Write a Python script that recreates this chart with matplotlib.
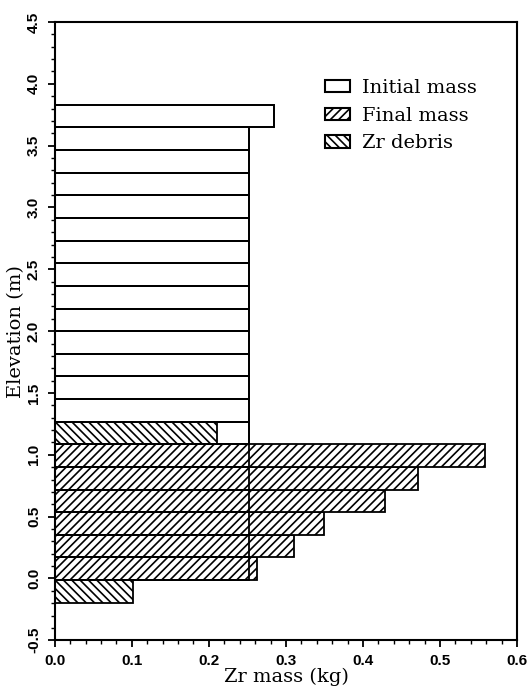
from __future__ import annotations

import matplotlib

matplotlib.use("Agg")

import matplotlib.pyplot as plt
from matplotlib.patches import Patch
from matplotlib.ticker import MultipleLocator


# elevation cells (bottom edge, m), all the same height
CELL_BOTTOM = [-0.196, -0.013, 0.170, 0.353, 0.536, 0.719, 0.902, 1.085,
               1.268, 1.451, 1.634, 1.817, 2.000, 2.183, 2.366, 2.549,
               2.732, 2.915, 3.098, 3.281, 3.464, 3.647]
CELL_HEIGHT = 0.183

# Zr mass per cell (kg); None = nothing in that cell
INITIAL_MASS = [None, 0.252, 0.252, 0.252, 0.252, 0.252, 0.252, 0.252,
                0.252, 0.252, 0.252, 0.252, 0.252, 0.252, 0.252, 0.252,
                0.252, 0.252, 0.252, 0.252, 0.252, 0.285]
FINAL_MASS = [None, 0.262, 0.310, 0.350, 0.428, 0.472, 0.558, None,
              None, None, None, None, None, None, None, None,
              None, None, None, None, None, None]
ZR_DEBRIS = [0.102, None, None, None, None, None, None, 0.211,
             None, None, None, None, None, None, None, None,
             None, None, None, None, None, None]

SERIF = ["DejaVu Serif"]
TICK_FONT = ["Liberation Sans", "DejaVu Sans"]


def pick(values):
    ys = [b for b, v in zip(CELL_BOTTOM, values) if v is not None]
    ws = [v for v in values if v is not None]
    return ys, ws


def main() -> None:
    plt.rcParams["hatch.linewidth"] = 1.2

    fig = plt.figure(figsize=(5.32, 6.87), dpi=100)
    ax = fig.add_axes([0.103, 0.068, 0.869, 0.9])

    y, w = pick(INITIAL_MASS)
    ax.barh(y, w, height=CELL_HEIGHT, align="edge", color="white",
            edgecolor="black", linewidth=1.3, zorder=1)

    y, w = pick(FINAL_MASS)
    ax.barh(y, w, height=CELL_HEIGHT, align="edge", color="white",
            edgecolor="black", hatch="////", linewidth=1.3, zorder=2)

    y, w = pick(ZR_DEBRIS)
    ax.barh(y, w, height=CELL_HEIGHT, align="edge", color="white",
            edgecolor="black", hatch="\\\\\\\\", linewidth=1.3, zorder=2)

    # initial mass outline shows through the hatched bars
    y, w = pick(INITIAL_MASS)
    ax.barh(y, w, height=CELL_HEIGHT, align="edge", fill=False,
            edgecolor="black", linewidth=1.3, zorder=3)

    ax.set_xlim(0.0, 0.6)
    ax.set_ylim(-0.5, 4.5)
    ax.xaxis.set_major_locator(MultipleLocator(0.1))
    ax.xaxis.set_minor_locator(MultipleLocator(0.02))
    ax.yaxis.set_major_locator(MultipleLocator(0.5))
    ax.yaxis.set_minor_locator(MultipleLocator(0.1))
    ax.tick_params(which="major", length=5, width=1.3, direction="out", pad=5)
    ax.tick_params(which="minor", length=3, width=1.0, direction="out")
    for side in ax.spines.values():
        side.set_linewidth(1.5)

    ax.set_xticks(ax.get_xticks())
    ax.set_xticklabels([f"{t:.1f}" for t in ax.get_xticks()],
                       family=TICK_FONT, fontsize=11, fontweight="bold")
    ax.set_yticks(ax.get_yticks())
    ax.set_yticklabels([f"{t:.1f}" for t in ax.get_yticks()],
                       family=TICK_FONT, fontsize=11, fontweight="bold",
                       rotation=90, va="center")
    ax.set_xlim(0.0, 0.6)
    ax.set_ylim(-0.5, 4.5)

    ax.set_xlabel("Zr mass (kg)", family=SERIF, fontsize=14, labelpad=0)
    ax.set_ylabel("Elevation (m)", family=SERIF, fontsize=14, labelpad=1)

    handles = [
        Patch(facecolor="white", edgecolor="black", linewidth=1.5),
        Patch(facecolor="white", edgecolor="black", hatch="////", linewidth=1.5),
        Patch(facecolor="white", edgecolor="black", hatch="\\\\\\\\", linewidth=1.5),
    ]
    ax.legend(handles, ["Initial mass", "Final mass", "Zr debris"],
              loc="upper left", bbox_to_anchor=(0.555, 0.93), frameon=False,
              prop={"family": SERIF, "size": 14}, handlelength=1.3,
              handleheight=0.6, handletextpad=0.6, labelspacing=0.5,
              borderpad=0.2)

    fig.savefig("out.png", dpi=100)
    plt.close(fig)


if __name__ == "__main__":
    main()
